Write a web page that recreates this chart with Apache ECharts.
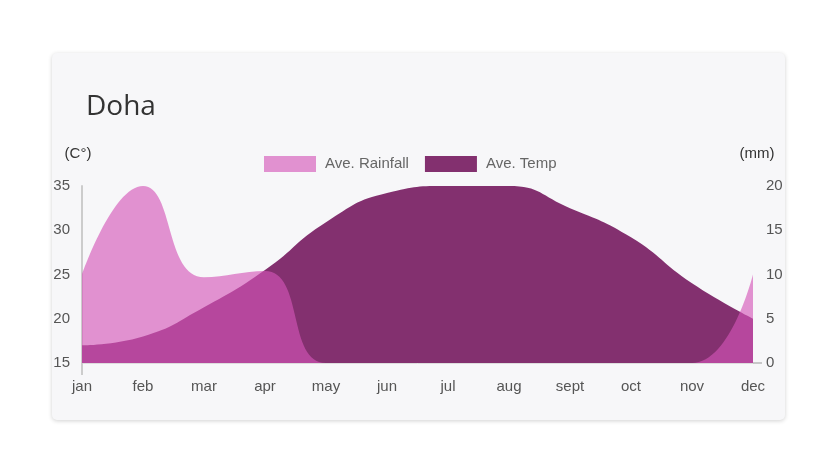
<!DOCTYPE html>
<html>
<head>
<meta charset="utf-8">
<script src="https://cdn.jsdelivr.net/npm/echarts@6/dist/echarts.min.js"></script>
<style>
  html, body { margin: 0; padding: 0; background: #ffffff; width: 830px; height: 474px; overflow: hidden; }
  #card { position: absolute; left: 52px; top: 53px; width: 733px; height: 367px; background: #f7f7f9;
          border-radius: 5px; box-shadow: 0 1px 4px rgba(0,0,0,0.18); }
  #chart { position: absolute; left: 0; top: 0; width: 830px; height: 474px; }
</style>
</head>
<body>
<div id="card"></div>
<div id="chart"></div>
<script>
var months = ['jan', 'feb', 'mar', 'apr', 'may', 'jun', 'jul', 'aug', 'sept', 'oct', 'nov', 'dec'];
var rainfall = [10, 20, 9.7, 10.4, 0, 0, 0, 0, 0, 0, 0, 10];
var temp = [17, 18, 21.3, 25.5, 30.9, 34.2, 35, 35, 32.5, 29.2, 24, 20];
var tempTicks = { min: 15, max: 35, interval: 5 };
var rainTicks = { min: 0, max: 20, interval: 5 };

var chart = echarts.init(document.getElementById('chart'), null, { renderer: 'canvas' });
var font = '"Liberation Sans", Arial, sans-serif';
var labelColor = '#555555';

var option = {
  backgroundColor: 'transparent',
  animation: false,
  title: {
    text: 'Doha', left: 81, top: 88,
    textStyle: { fontFamily: '"Open Sans", Lato, sans-serif', fontSize: 28, fontWeight: 'normal', color: '#333333' }
  },
  legend: {
    left: 259, top: 151, itemWidth: 52, itemHeight: 16, itemGap: 16, icon: 'rect',
    textStyle: { fontFamily: font, fontSize: 15, color: '#666666', padding: [0, 0, 0, 4] },
    data: [
      { name: 'Ave. Rainfall', itemStyle: { color: '#e191d0', opacity: 1 } },
      { name: 'Ave. Temp', itemStyle: { color: '#83306f', opacity: 1 } }
    ]
  },
  grid: { left: 82, right: 77, top: 186, bottom: 111, containLabel: false },
  xAxis: {
    type: 'category', data: months, boundaryGap: false,
    axisLine: { show: true, lineStyle: { color: '#dddddd', width: 1 } },
    axisTick: { show: true, length: 12, interval: function (i) { return i === 0; }, lineStyle: { color: '#cccccc', width: 2 } },
    axisLabel: { color: labelColor, fontFamily: font, fontSize: 15, margin: 16, interval: 0 },
    splitLine: { show: false }
  },
  yAxis: [
    {
      type: 'value', min: tempTicks.min, max: tempTicks.max, interval: tempTicks.interval,
      name: '(C°)', nameLocation: 'end', nameGap: 25,
      nameTextStyle: { color: '#333333', fontFamily: font, fontSize: 15, padding: [0, 8, 0, 0] },
      axisLine: { show: true, lineStyle: { color: '#cccccc', width: 2 } },
      axisTick: { show: false },
      axisLabel: { color: labelColor, fontFamily: font, fontSize: 15, margin: 12 },
      splitLine: { show: false }
    },
    {
      type: 'value', min: rainTicks.min, max: rainTicks.max, interval: rainTicks.interval,
      name: '(mm)', nameLocation: 'end', nameGap: 25,
      nameTextStyle: { color: '#333333', fontFamily: font, fontSize: 15, padding: [0, 0, 0, 8] },
      axisLine: { show: false },
      axisTick: { show: false },
      axisLabel: { color: labelColor, fontFamily: font, fontSize: 15, margin: 13 },
      splitLine: { show: false }
    }
  ],
  series: [
    {
      name: 'Ave. Temp', type: 'line', yAxisIndex: 0, data: temp, smooth: 0.5,
      showSymbol: false, symbol: 'none', clip: true, z: 2,
      lineStyle: { width: 0 },
      itemStyle: { color: '#83306f' },
      areaStyle: { color: '#83306f', opacity: 1 }
    },
    {
      name: 'Ave. Rainfall', type: 'line', yAxisIndex: 1, data: rainfall, smooth: 0.5,
      showSymbol: false, symbol: 'none', clip: true, z: 3,
      lineStyle: { width: 0 },
      itemStyle: { color: '#e191d0' },
      areaStyle: { color: 'rgb(212,85,184)', opacity: 0.63 }
    }
  ]
};
chart.setOption(option);

// small tick mark at the 0 of the right axis
var p = chart.convertToPixel({ yAxisIndex: 1 }, rainTicks.min);
var px = chart.convertToPixel({ xAxisIndex: 0 }, months[months.length - 1]);
chart.setOption({
  graphic: [{
    type: 'line', shape: { x1: px, y1: p, x2: px + 9, y2: p },
    style: { stroke: '#999999', lineWidth: 1 }, z: 10
  }]
});
</script>
</body>
</html>
